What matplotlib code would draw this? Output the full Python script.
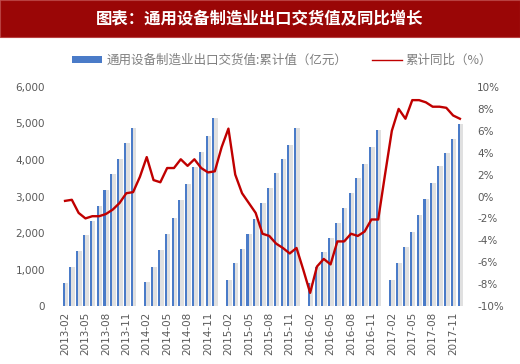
import matplotlib
matplotlib.use("Agg")
import matplotlib.pyplot as plt
from matplotlib.patches import Rectangle, Patch
from matplotlib.lines import Line2D
from matplotlib.ticker import FuncFormatter, MultipleLocator
import numpy as np

plt.rcParams['font.family'] = ['Noto Sans CJK SC', 'DejaVu Sans']

years = [2013, 2014, 2015, 2016, 2017]
# export delivery value, cumulative (100 million yuan), Feb..Dec each year (Jan not published)
bars_2013 = [620, 1075, 1505, 1950, 2320, 2745, 3185, 3605, 4020, 4475, 4890]
bars_2014 = [645, 1080, 1530, 1975, 2420, 2905, 3335, 3815, 4230, 4665, 5160]
bars_2015 = [710, 1165, 1555, 1975, 2395, 2815, 3220, 3655, 4025, 4400, 4890]
bars_2016 = [620, 1075, 1470, 1855, 2285, 2680, 3090, 3515, 3880, 4345, 4830]
bars_2017 = [710, 1165, 1605, 2015, 2490, 2930, 3380, 3835, 4200, 4565, 4995]

# cumulative YoY (%), monthly from 2013-02 to 2017-12
yoy_2013 = [-0.4, -0.3, -1.5, -2.0, -1.8, -1.8, -1.6, -1.2, -0.6, 0.3, 0.4]
yoy_2014 = [1.8, 3.6, 1.5, 1.3, 2.6, 2.6, 3.4, 2.8, 3.4, 2.6, 2.2, 2.3]
yoy_2015 = [4.5, 6.2, 2.0, 0.3, -0.6, -1.5, -3.4, -3.6, -4.3, -4.7, -5.2, -4.7]
yoy_2016 = [-6.7, -8.8, -6.4, -5.7, -6.2, -4.1, -4.1, -3.4, -3.6, -3.2, -2.1, -2.1]
yoy_2017 = [2.0, 6.0, 8.0, 7.1, 8.8, 8.8, 8.6, 8.2, 8.2, 8.1, 7.4, 7.1]

months = [f"{y}-{m:02d}" for y in years for m in range(1, 13)][1:]  # 2013-02 .. 2017-12
bar_vals = []
for yr_bars in [bars_2013, bars_2014, bars_2015, bars_2016, bars_2017]:
    if bar_vals:
        bar_vals.append(np.nan)  # January: no data
    bar_vals.extend(yr_bars)
yoy = yoy_2013 + yoy_2014 + yoy_2015 + yoy_2016 + yoy_2017

title = "图表：通用设备制造业出口交货值及同比增长"
bar_label = "通用设备制造业出口交货值:累计值（亿元）"
line_label = "累计同比（%）"

x = np.arange(len(months))
bv = np.array(bar_vals, dtype=float)

fig = plt.figure(figsize=(5.2, 3.64), dpi=100)
fig.patches.append(Rectangle((0, 0.898), 1, 0.102, transform=fig.transFigure,
                             facecolor='#9a0606', edgecolor='#b84040', lw=0.8, zorder=0))
fig.text(0.5, 0.949, title, color='white', fontsize=11.8, fontweight='bold',
         ha='center', va='center')

ax = fig.add_axes([0.1185, 0.1593, 0.7725, 0.6017])
ax.bar(x + 0.2, bv, width=0.55, color='#d9d9d9', alpha=0.8, zorder=1)
ax.bar(x - 0.2, bv, width=0.3, color='#4a7bc8', zorder=2)
ax.set_xlim(-0.5, len(months) - 0.5)
ax.set_ylim(0, 6000)
ax.yaxis.set_major_locator(MultipleLocator(1000))
ax.yaxis.set_major_formatter(FuncFormatter(lambda v, p: f"{int(v):,}"))
tick_idx = list(range(0, len(months), 3))
ax.set_xticks(tick_idx)
ax.set_xticklabels([months[i] for i in tick_idx], rotation=90,
                   fontsize=7.5, color='#595959', family='DejaVu Sans')
for s in ax.spines.values():
    s.set_visible(False)
ax.tick_params(axis='both', length=0, colors='#595959', labelsize=7.5)
ax.tick_params(axis='y', pad=12)
ax.tick_params(axis='x', pad=4)
for lab in ax.get_yticklabels():
    lab.set_family('DejaVu Sans')

ax2 = ax.twinx()
ax2.plot(x, yoy, color='#c00000', lw=1.7, zorder=3, solid_joinstyle='round')
ax2.set_ylim(-10, 10)
ax2.yaxis.set_major_locator(MultipleLocator(2))
ax2.yaxis.set_major_formatter(FuncFormatter(lambda v, p: f"{int(round(v))}%"))
for s in ax2.spines.values():
    s.set_visible(False)
ax2.tick_params(axis='y', length=0, colors='#595959', labelsize=7.5, pad=10)
for lab in ax2.get_yticklabels():
    lab.set_family('DejaVu Sans')

handles = [Patch(facecolor='#4a7bc8', edgecolor='none'),
           Line2D([0], [0], color='#c00000', lw=1.0)]
fig.legend(handles, [bar_label, line_label], loc='center',
           bbox_to_anchor=(0.543, 0.835), ncol=2, frameon=False,
           fontsize=9, labelcolor='#7f7f7f', handlelength=2.4,
           handleheight=0.5, columnspacing=2.0, handletextpad=0.3)

fig.savefig('out.png', dpi=100)
